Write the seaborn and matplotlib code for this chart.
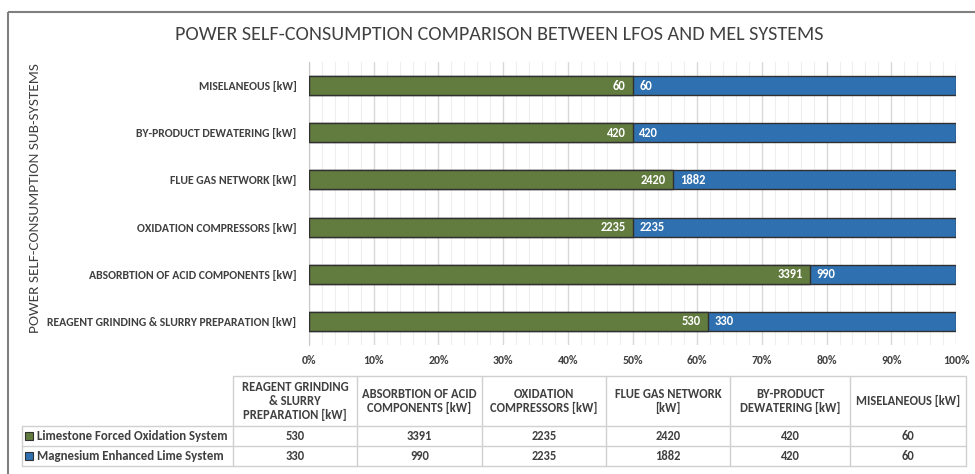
import matplotlib
matplotlib.use('Agg')
import matplotlib.pyplot as plt
import matplotlib.ticker as mticker
from matplotlib.patches import Rectangle
import seaborn as sns
import pandas as pd

# Daten
subsystems = ['REAGENT GRINDING & SLURRY PREPARATION [kW]', 'ABSORBTION OF ACID COMPONENTS [kW]',
              'OXIDATION COMPRESSORS [kW]', 'FLUE GAS NETWORK [kW]',
              'BY-PRODUCT DEWATERING [kW]', 'MISELANEOUS [kW]']
table_headers = ['REAGENT GRINDING\n& SLURRY\nPREPARATION [kW]', 'ABSORBTION OF ACID\nCOMPONENTS [kW]',
                 'OXIDATION\nCOMPRESSORS [kW]', 'FLUE GAS NETWORK\n[kW]',
                 'BY-PRODUCT\nDEWATERING [kW]', 'MISELANEOUS [kW]']
lfos_kw = [530, 3391, 2235, 2420, 420, 60]
mel_kw = [330, 990, 2235, 1882, 420, 60]
series_names = ['Limestone Forced Oxidation System', 'Magnesium Enhanced Lime System']

green = '#627b3e'
blue = '#2f70b0'
dark = '#404040'
FS = 8.5

sns.set_style('white')
plt.rcParams['font.family'] = ['Carlito', 'DejaVu Sans']

df = pd.DataFrame({'sub': subsystems, 'lfos': lfos_kw, 'mel': mel_kw})
df['total'] = df['lfos'] + df['mel']
df['lfos_pct'] = df['lfos'] / df['total'] * 100
df['full'] = 100.0
order = subsystems[::-1]

W, H = 975, 474
fig = plt.figure(figsize=(W / 100, H / 100), dpi=100)
ax = fig.add_axes([309 / W, 1 - 345 / H, (956 - 309) / W, (345 - 62) / H])

# gestapelte 100%-Balken: blau als Hintergrund, grün darüber
sns.barplot(data=df, x='full', y='sub', order=order, color=blue, saturation=1,
            width=0.4, edgecolor='#303030', linewidth=1, errorbar=None, ax=ax, zorder=3)
sns.barplot(data=df, x='lfos_pct', y='sub', order=order, color=green, saturation=1,
            width=0.4, edgecolor='#303030', linewidth=1, errorbar=None, ax=ax, zorder=4)

# Werte an die Balken schreiben
for i, name in enumerate(order):
    row = df[df['sub'] == name].iloc[0]
    ax.annotate(str(row['lfos']), (row['lfos_pct'], i), xytext=(-5, 0), textcoords='offset points',
                ha='right', va='center', color='white', fontsize=9, fontweight='bold', zorder=5)
    ax.annotate(str(row['mel']), (row['lfos_pct'], i), xytext=(5, 0), textcoords='offset points',
                ha='left', va='center', color='white', fontsize=9, fontweight='bold', zorder=5)

ax.set_xlim(0, 100)
ax.set_ylim(5.5, -0.5)
ax.xaxis.set_major_locator(mticker.MultipleLocator(10))
ax.xaxis.set_minor_locator(mticker.MultipleLocator(2))
ax.xaxis.set_major_formatter(mticker.FuncFormatter(lambda v, p: f"{int(v)}%"))
ax.grid(axis='x', which='major', color='#d9d9d9', linewidth=1, zorder=0)
ax.grid(axis='x', which='minor', color='#eeeeee', linewidth=0.8, zorder=0)
ax.set_axisbelow(True)
ax.tick_params(axis='both', which='both', length=0, colors=dark, labelsize=FS)
ax.tick_params(axis='x', pad=7)
ax.tick_params(axis='y', pad=9)
for lbl in ax.get_xticklabels() + ax.get_yticklabels():
    lbl.set_fontweight('bold')
ax.set_xlabel('')
ax.set_ylabel('')
for s in ['top', 'right', 'bottom']:
    ax.spines[s].set_visible(False)
ax.spines['left'].set_color('#c8c8c8')

# Titel und Achsentitel
fig.text(499 / W, 1 - 35 / H, 'POWER SELF-CONSUMPTION COMPARISON BETWEEN LFOS AND MEL SYSTEMS',
         ha='center', va='center', fontsize=14.5, color='#404040')
fig.text(35 / W, 1 - 198 / H, 'POWER SELF-CONSUMPTION SUB-SYSTEMS', rotation=90,
         ha='center', va='center', fontsize=11, color=dark)

# Datentabelle unter dem Diagramm
tab = fig.add_axes([0, 0, 1, 1], facecolor='none')
tab.set_xlim(0, W)
tab.set_ylim(H, 0)
tab.axis('off')
tab.add_patch(Rectangle((8, 12), W, H, fill=False, edgecolor='#808080', linewidth=1.5))

col_edges = [233, 357, 482, 606, 730, 850, 966]
row_edges = [376, 426, 446, 466]
leg_left = 22
lc = '#d0d0d0'
tab.plot([col_edges[0], col_edges[-1]], [row_edges[0]] * 2, color=lc, lw=1)
for y in row_edges[1:]:
    tab.plot([leg_left, col_edges[-1]], [y, y], color=lc, lw=1)
tab.plot([leg_left, leg_left], [row_edges[1], row_edges[-1]], color=lc, lw=1)
for x in col_edges:
    tab.plot([x, x], [row_edges[0], row_edges[-1]], color=lc, lw=1)

for j, head in enumerate(table_headers):
    cx = (col_edges[j] + col_edges[j + 1]) / 2
    tab.text(cx, (row_edges[0] + row_edges[1]) / 2, head, ha='center', va='center',
             fontsize=9, fontweight='bold', color=dark, linespacing=1.15)

for r, (name, vals, col) in enumerate(zip(series_names, [lfos_kw, mel_kw], [green, blue])):
    cy = (row_edges[r + 1] + row_edges[r + 2]) / 2
    tab.add_patch(Rectangle((25, cy - 4), 8, 8, facecolor=col, edgecolor='#303030', linewidth=0.8))
    tab.text(37, cy, name, ha='left', va='center', fontsize=9.3, fontweight='bold', color=dark)
    for j, v in enumerate(vals):
        cx = (col_edges[j] + col_edges[j + 1]) / 2
        tab.text(cx, cy, str(v), ha='center', va='center', fontsize=9, fontweight='bold', color=dark)

fig.savefig('out.png', dpi=100)
